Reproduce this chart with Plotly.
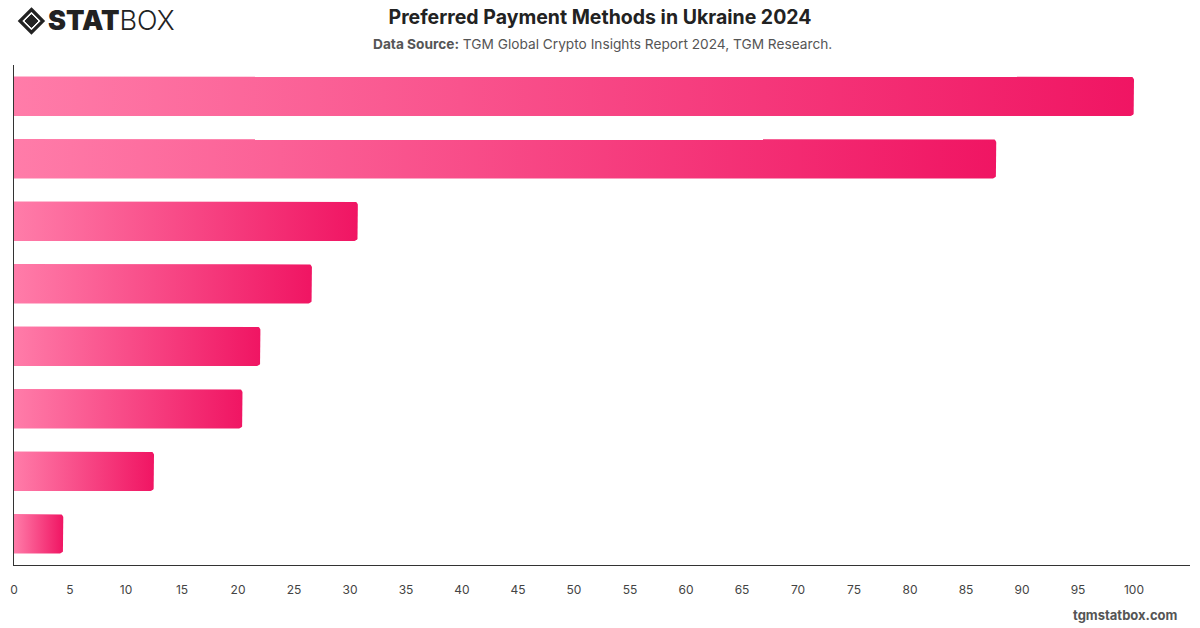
import numpy as np
import plotly.graph_objects as go

# ---- data ----
categories = ["Method A", "Method B", "Method C", "Method D",
              "Method E", "Method F", "Method G", "Method H"]
values = [100, 87.7, 30.7, 26.6, 22.0, 20.4, 12.5, 4.4]
x_ticks = list(range(0, 101, 5))

TITLE = "Preferred Payment Methods in Ukraine 2024"
SUBTITLE = "<b>Data Source:</b> TGM Global Crypto Insights Report 2024, TGM Research."

# ---- layout geometry ----
W, H = 1200, 628
ML, MR, MT, MB = 10, 10, 65, 63
X_MAX = 105
PW, PH = W - ML - MR, H - MT - MB
px_per_x = PW / X_MAX
px_per_band = PH / len(categories)
bar_h = 0.63
rx = 3.5 / px_per_x
ry = 3.5 / px_per_band

def bar_outline(i, v):
    y0, y1 = i - bar_h / 2, i + bar_h / 2
    xs, ys = [0, v - rx], [y0, y0]
    a = np.linspace(-np.pi / 2, 0, 8)
    xs += list(v - rx + rx * np.cos(a)); ys += list(y0 + ry + ry * np.sin(a))
    a = np.linspace(0, np.pi / 2, 8)
    xs += list(v - rx + rx * np.cos(a)); ys += list(y1 - ry + ry * np.sin(a))
    xs += [0, 0]; ys += [y1, y0]
    return xs, ys

fig = go.Figure()
for i, (c, v) in enumerate(zip(categories, values)):
    xs, ys = bar_outline(i, v)
    fig.add_trace(go.Scatter(
        x=xs, y=ys, mode="lines", fill="toself",
        line=dict(width=0, color="rgba(0,0,0,0)"),
        fillgradient=dict(type="horizontal",
                          colorscale=[[0, "#FF7CA9"], [1, "#F01563"]]),
        name=c, hoverinfo="text", text=f"{c}: {v}", showlegend=False))

fig.update_layout(
    width=W, height=H,
    margin=dict(l=ML, r=MR, t=MT, b=MB),
    paper_bgcolor="white", plot_bgcolor="white",
    font=dict(family="Inter, Roboto, sans-serif", color="#444"),
    title=dict(text=f"<b>{TITLE}</b>", x=0.5, xanchor="center",
               y=1 - 17 / H, yanchor="middle", yref="container",
               font=dict(size=19.5, color="#222", family="Inter, sans-serif")),
    xaxis=dict(range=[0, X_MAX], tickvals=x_ticks, showgrid=False, zeroline=False,
               showline=True, linecolor="#333", linewidth=1,
               ticks="outside", ticklen=0, ticklabelstandoff=14,
               tickfont=dict(size=12, color="#444"), fixedrange=True),
    yaxis=dict(range=[len(categories) - 0.5, -0.5], tickvals=list(range(len(categories))),
               ticktext=categories, showticklabels=False, showgrid=False,
               zeroline=False, showline=True, linecolor="#333", linewidth=1,
               fixedrange=True),
)

def px2paper(px, py):
    return (px - ML) / PW, (H - MB - py) / PH

annotations = []
sx, sy = px2paper(600, 44)
annotations.append(dict(text=SUBTITLE, x=0.5, y=sy, xref="paper", yref="paper",
                        xanchor="center", yanchor="middle", showarrow=False,
                        font=dict(size=13.7, color="#555", family="Inter, sans-serif")))
lx, ly = px2paper(42, 21)
annotations.append(dict(text="<span style='font-weight:900'>STAT</span><span style='font-weight:300'>BOX</span>",
                        x=lx, y=ly, xref="paper", yref="paper",
                        xanchor="left", yanchor="middle", showarrow=False,
                        font=dict(size=27, color="#222", family="Inter, sans-serif")))
fx, fy = px2paper(1180, 615)
annotations.append(dict(text="<b>tgmstatbox.com</b>", x=fx, y=fy, xref="paper", yref="paper",
                        xanchor="right", yanchor="middle", showarrow=False,
                        font=dict(size=13, color="#555", family="Inter, sans-serif")))
fig.update_layout(annotations=annotations)

def diamond_path(cx, cy, r):
    pts = [px2paper(cx, cy - r), px2paper(cx + r, cy), px2paper(cx, cy + r), px2paper(cx - r, cy)]
    return "M " + " L ".join(f"{x},{y}" for x, y in pts) + " Z"

fig.add_shape(type="path", path=diamond_path(27.5, 21, 11.5), xref="paper", yref="paper",
              line=dict(color="#222", width=3.2), fillcolor="rgba(0,0,0,0)")
fig.add_shape(type="path", path=diamond_path(27.5, 21, 6.5), xref="paper", yref="paper",
              line=dict(color="#222", width=1), fillcolor="#222")

fig.write_html("out.html")
